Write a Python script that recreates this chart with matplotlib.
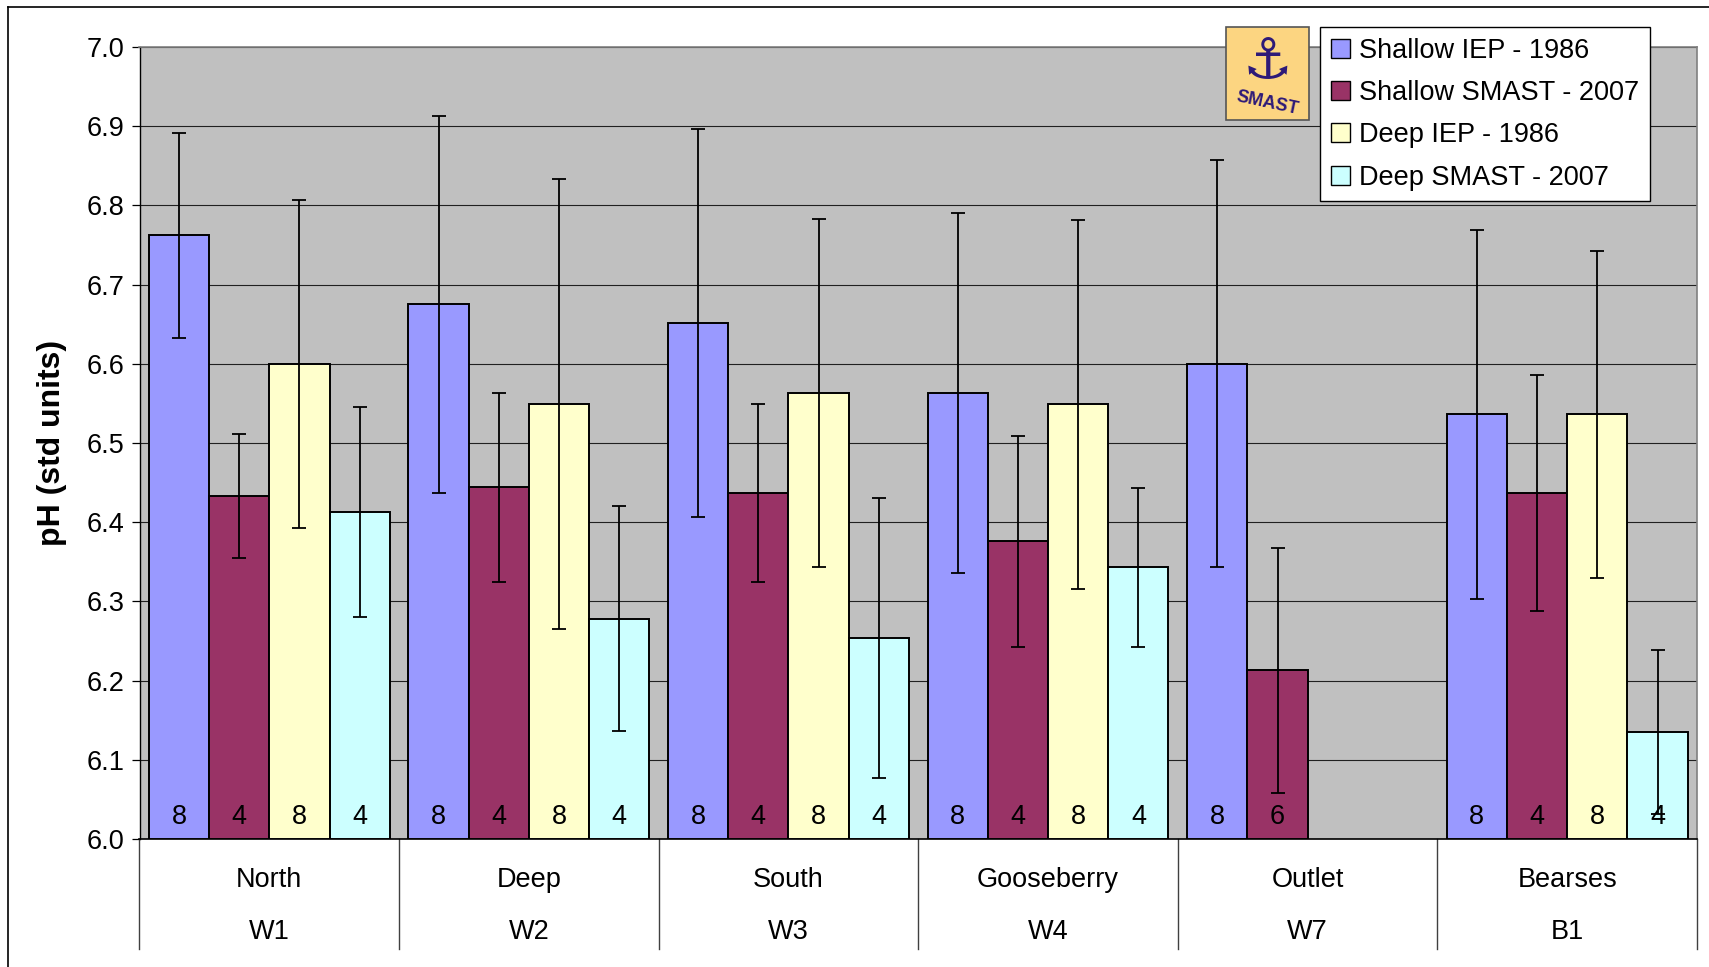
import numpy as np
import matplotlib
matplotlib.use("Agg")
import matplotlib.pyplot as plt
from matplotlib.patches import Rectangle, Patch
from matplotlib.lines import Line2D
import matplotlib.transforms as mtransforms

plt.rcParams['font.family'] = ['Liberation Sans', 'DejaVu Sans']

# ---- data ----
sites = ["North", "Deep", "South", "Gooseberry", "Outlet", "Bearses"]
codes = ["W1", "W2", "W3", "W4", "W7", "B1"]
series = ["Shallow IEP - 1986", "Shallow SMAST - 2007", "Deep IEP - 1986", "Deep SMAST - 2007"]

shallow_iep = [6.762, 6.675, 6.651, 6.563, 6.600, 6.536]
shallow_smast = [6.433, 6.444, 6.437, 6.376, 6.213, 6.437]
deep_iep = [6.600, 6.549, 6.563, 6.549, np.nan, 6.536]
deep_smast = [6.413, 6.278, 6.254, 6.343, np.nan, 6.135]

shallow_iep_sd = [0.130, 0.238, 0.245, 0.227, 0.257, 0.233]
shallow_smast_sd = [0.078, 0.119, 0.112, 0.133, 0.155, 0.149]
deep_iep_sd = [0.207, 0.284, 0.220, 0.233, np.nan, 0.207]
deep_smast_sd = [0.133, 0.142, 0.177, 0.100, np.nan, 0.104]

shallow_iep_n = ["8", "8", "8", "8", "8", "8"]
shallow_smast_n = ["4", "4", "4", "4", "6", "4"]
deep_iep_n = ["8", "8", "8", "8", "", "8"]
deep_smast_n = ["4", "4", "4", "4", "", "4"]

yticks = [6.0, 6.1, 6.2, 6.3, 6.4, 6.5, 6.6, 6.7, 6.8, 6.9, 7.0]

colors = ["#9999FF", "#993366", "#FFFFCC", "#CCFFFF"]

values = [shallow_iep, shallow_smast, deep_iep, deep_smast]
sds = [shallow_iep_sd, shallow_smast_sd, deep_iep_sd, deep_smast_sd]
ns = [shallow_iep_n, shallow_smast_n, deep_iep_n, deep_smast_n]

FS = 19.5

# ---- figure ----
W, H = 1709, 967
fig = plt.figure(figsize=(W / 100, H / 100), dpi=100)
L, R, T, B = 139.5, 1697, 47, 839
ax = fig.add_axes([L / W, 1 - B / H, (R - L) / W, (B - T) / H])
ax.set_facecolor("#C0C0C0")

x = np.arange(len(sites))
bw = 0.232
offsets = (np.arange(4) - 1.5) * bw

for i in range(4):
    bars = ax.bar(x + offsets[i], np.array(values[i]) - 6.0, bottom=6.0, width=bw,
                  color=colors[i], edgecolor="black", linewidth=1.4, zorder=3,
                  label=series[i])
    ax.errorbar(x + offsets[i], values[i], yerr=sds[i], fmt="none", ecolor="black",
                elinewidth=1.3, capsize=4.8, capthick=1.3, zorder=4)
    for b, lab in zip(bars, ns[i]):
        if lab:
            ax.text(b.get_x() + b.get_width() / 2, 6.028, lab, ha="center", va="center",
                    fontsize=FS, color="black", zorder=5)

ax.set_ylim(6.0, 7.0)
ax.set_xlim(-0.5, len(sites) - 0.5)
ax.set_yticks(yticks)
ax.set_yticklabels([f"{v:.1f}" for v in yticks], fontsize=FS)
ax.yaxis.grid(True, color="#202020", linewidth=0.8, zorder=0)
ax.set_axisbelow(True)
ax.tick_params(axis="y", direction="out", length=6, width=0.9, pad=5)
ax.tick_params(axis="x", length=0)
ax.set_xticks([])
for s in ["top", "right"]:
    ax.spines[s].set_color("#808080")
    ax.spines[s].set_linewidth(1.2)
ax.spines["left"].set_color("black")
ax.spines["bottom"].set_color("black")
ax.spines["left"].set_linewidth(1.0)
ax.spines["bottom"].set_linewidth(1.2)

ax.set_ylabel("pH (std units)", fontsize=23, fontweight="bold", labelpad=14)

# category axis (two-level labels with separators)
trans = mtransforms.blended_transform_factory(ax.transData, ax.transAxes)
sep_bottom = -(949 - B) / (B - T)
for xb in np.arange(-0.5, len(sites), 1.0):
    ax.add_line(Line2D([xb, xb], [0, sep_bottom], transform=trans, color="#404040",
                       linewidth=1.0, clip_on=False))
row1 = -(880 - B) / (B - T)
row2 = -(932 - B) / (B - T)
for xi, s, c in zip(x, sites, codes):
    ax.text(xi, row1, s, transform=trans, ha="center", va="center", fontsize=FS)
    ax.text(xi, row2, c, transform=trans, ha="center", va="center", fontsize=FS)

# legend
handles = [Patch(facecolor=colors[i], edgecolor="black", linewidth=1.0) for i in range(4)]
leg = fig.legend(handles, series, loc="upper left",
                 bbox_to_anchor=(1320 / W, 1 - 27 / H), fontsize=FS,
                 frameon=True, fancybox=False, edgecolor="black", framealpha=1,
                 handlelength=0.7, handleheight=0.7, handletextpad=0.35,
                 labelspacing=0.6, borderpad=0.4, borderaxespad=0)
leg.get_frame().set_linewidth(1.0)

# logo placeholder
lx0, ly0, lx1, ly1 = 1226, 27, 1309, 120
fig.patches.append(Rectangle((lx0 / W, 1 - ly1 / H), (lx1 - lx0) / W, (ly1 - ly0) / H,
                             transform=fig.transFigure, facecolor="#FCD581",
                             edgecolor="#555555", linewidth=1.2, zorder=10))
fig.text((lx0 + lx1) / 2 / W, 1 - 62 / H, "\u2693", ha="center", va="center",
         fontsize=40, color="#2E1A78", family="DejaVu Sans", zorder=11)
fig.text((lx0 + lx1) / 2 / W, 1 - 103 / H, "SMAST", ha="center", va="center",
         fontsize=13, fontweight="bold", color="#2E1A78", rotation=-12, zorder=11)

# outer border (top and left visible)
fig.add_artist(Line2D([8 / W, 1.0], [1 - 7 / H, 1 - 7 / H], transform=fig.transFigure,
                      color="black", linewidth=1.2))
fig.add_artist(Line2D([8 / W, 8 / W], [0, 1 - 7 / H], transform=fig.transFigure,
                      color="black", linewidth=1.2))

fig.savefig("out.png", dpi=100)
